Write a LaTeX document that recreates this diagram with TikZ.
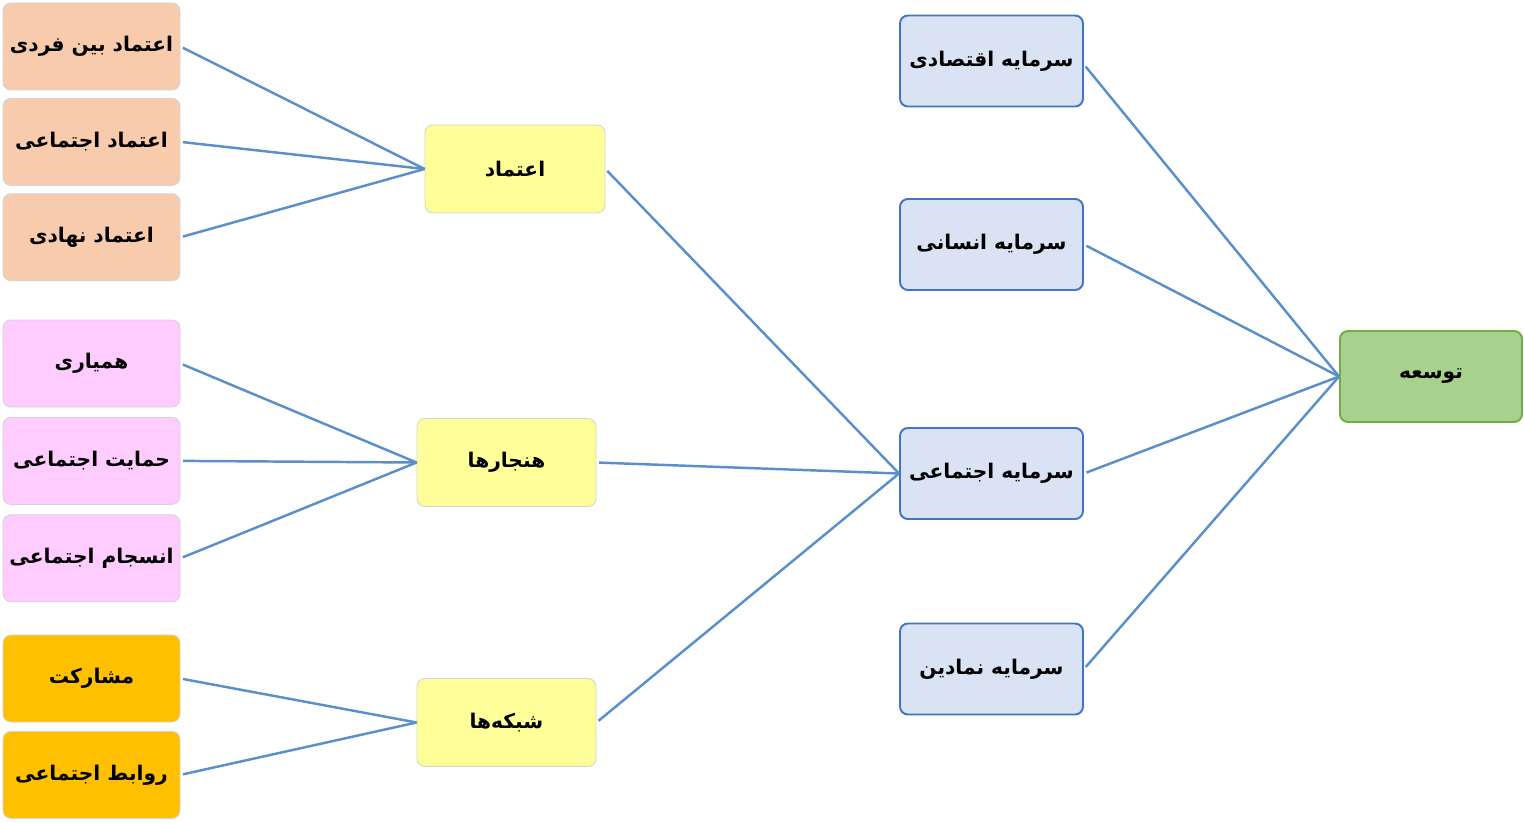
\documentclass[tikz,border=0pt]{standalone}
\usepackage{fontspec}
\newfontfamily\arabicfont[Script=Arabic]{DejaVu Sans}
\TeXXeTstate=1
\usetikzlibrary{positioning}
\definecolor{peach}{HTML}{F8CBAD}
\definecolor{pinkbox}{HTML}{FFCCFF}
\definecolor{orangebox}{HTML}{FFC000}
\definecolor{yellowbox}{HTML}{FFFF99}
\definecolor{bluebox}{HTML}{DAE3F3}
\definecolor{blueline}{HTML}{4472C4}
\definecolor{greenbox}{HTML}{A9D18E}
\definecolor{greenline}{HTML}{70AD47}
\definecolor{edgegray}{HTML}{D4D4D4}
\definecolor{linkblue}{HTML}{5B8FCB}
\newcommand\rtl[1]{\beginR #1\endR}

\begin{document}
\begin{tikzpicture}[
  box/.style={draw=edgegray, line width=0.5pt, rounded corners=4.5pt,
    minimum width=3.54cm, minimum height=1.74cm, inner sep=0pt,
    font=\arabicfont\bfseries\fontsize{11.5}{13}\selectfont},
  trust/.style={box, fill=peach},
  norm/.style={box, fill=pinkbox},
  net/.style={box, fill=orangebox},
  core/.style={box, fill=yellowbox, minimum width=3.6cm, minimum height=1.76cm},
  capital/.style={box, fill=bluebox, draw=blueline, line width=1.1pt,
    minimum width=3.66cm, minimum height=1.82cm},
  goal/.style={box, fill=greenbox, draw=greenline, line width=1.1pt,
    minimum width=3.64cm, minimum height=1.82cm},
  link/.style={draw=linkblue, line width=1.4pt, shorten <=1.5pt}
]
 \useasboundingbox (0,0) rectangle (30.48,16.44);
 % left column
 \node [trust] (ibf) at (1.83,15.51) {\rtl{اعتماد بین فردی}};
 \node [trust, below=0.15cm of ibf] (ije) {\rtl{اعتماد اجتماعی}};
 \node [trust, below=0.15cm of ije] (inh) {\rtl{اعتماد نهادی}};
 \node [norm] (hamyari) at (1.83,9.17) {\rtl{همیاری}};
 \node [norm, below=0.19cm of hamyari] (hemayat) {\rtl{حمایت اجتماعی}};
 \node [norm, below=0.19cm of hemayat] (ensejam) {\rtl{انسجام اجتماعی}};
 \node [net] (mosharekat) at (1.83,2.87) {\rtl{مشارکت}};
 \node [net, below=0.17cm of mosharekat] (ravabet) {\rtl{روابط اجتماعی}};
 % middle column
 \node [core] (etemad) at (10.30,13.06) {\rtl{اعتماد}};
 \node [core, minimum width=3.58cm] (hanjar) at (10.13,7.19) {\rtl{هنجارها}};
 \node [core, minimum width=3.58cm] (shabake) at (10.13,1.99) {\rtl{شبکه^^^^200cها}};
 % capitals
 \node [capital] (eqtesadi) at (19.83,15.22) {\rtl{سرمایه اقتصادی}};
 \node [capital] (ensani) at (19.83,11.55) {\rtl{سرمایه انسانی}};
 \node [capital] (ejtemai) at (19.83,6.97) {\rtl{سرمایه اجتماعی}};
 \node [capital] (namadin) at (19.83,3.06) {\rtl{سرمایه نمادین}};
 \node [goal] (tosee) at (28.62,8.91) {\rtl{توسعه}};
 % links
 \draw [link] (ibf.east) -- (etemad.west);
 \draw [link] (ije.east) -- (etemad.west);
 \draw [link] (inh.east) -- (etemad.west);
 \draw [link] (hamyari.east) -- (hanjar.west);
 \draw [link] (hemayat.east) -- (hanjar.west);
 \draw [link] (ensejam.east) -- (hanjar.west);
 \draw [link] (mosharekat.east) -- (shabake.west);
 \draw [link] (ravabet.east) -- (shabake.west);
 \draw [link] (etemad.east) -- (ejtemai.west);
 \draw [link] (hanjar.east) -- (ejtemai.west);
 \draw [link] (shabake.east) -- (ejtemai.west);
 \draw [link] ([yshift=-2pt]eqtesadi.east) -- (tosee.west);
 \draw [link] (ensani.east) -- (tosee.west);
 \draw [link] (ejtemai.east) -- (tosee.west);
 \draw [link] (namadin.east) -- (tosee.west);
\end{tikzpicture}
\end{document}
